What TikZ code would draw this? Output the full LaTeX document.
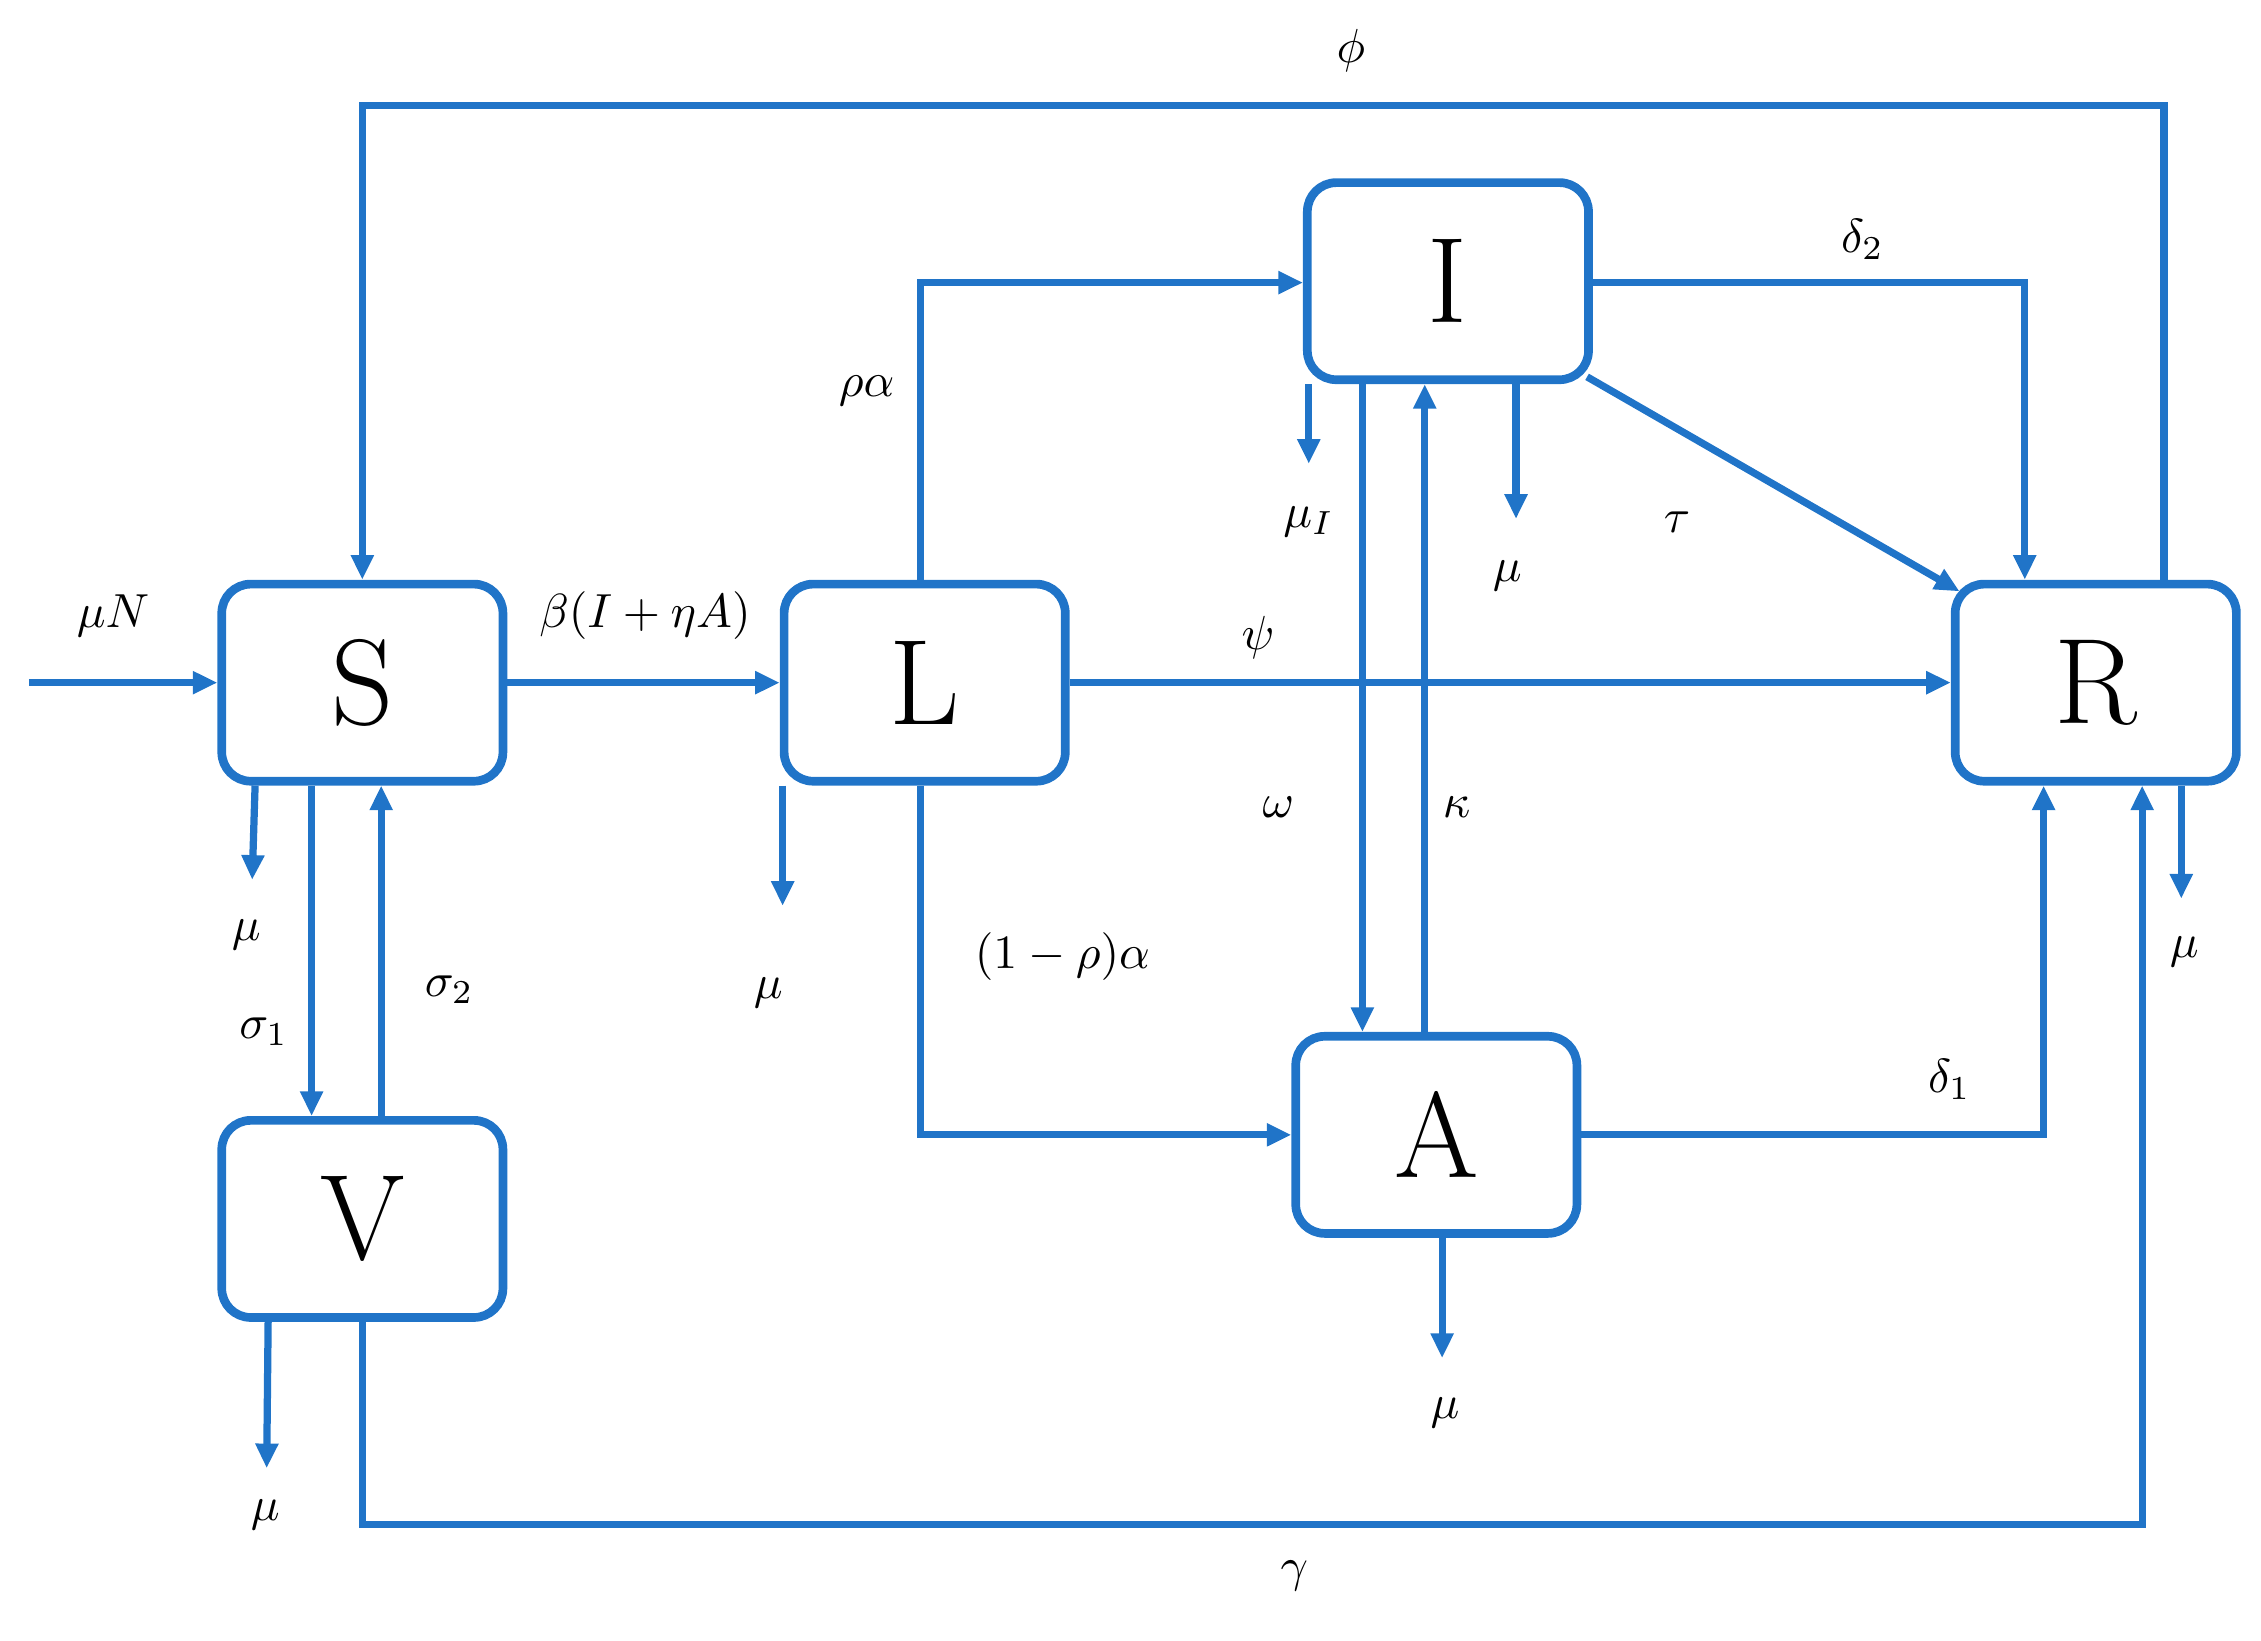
\documentclass[tikz,border=0pt]{standalone}
\usetikzlibrary{arrows.meta}
\definecolor{bl}{RGB}{32,116,200}
\begin{document}
\begin{tikzpicture}[x=1pt,y=-1pt,
 box/.style={draw=bl,line width=6pt,rounded corners=20pt,minimum width=194pt,minimum height=136pt,inner sep=0pt,font=\fontsize{84}{84}\selectfont},
 ar/.style={draw=bl,line width=5pt,-{Triangle[length=17pt,width=15pt]}},
 lb/.style={scale=3.3}]
\useasboundingbox (0,0) rectangle (1560,1132);
\node[box] (S) at (250,471) {S};
\node[box] (L) at (638,471) {L};
\node[box] (I) at (999,194) {I};
\node[box] (R) at (1446,471) {R};
\node[box] (A) at (991,783) {A};
\node[box] (V) at (250,841) {V};
\coordinate (in) at (20,471);
\coordinate (mS) at (174,607); \coordinate (mL) at (540,625);
\coordinate (mI1) at (903,320); \coordinate (mI2) at (1046,358);
\coordinate (mA) at (995,937); \coordinate (mR) at (1505,620);
\coordinate (mV) at (184,1013);
\draw[ar] (in) -- (S.west);
\draw[ar] (S.east) -- (L.west);
\draw[ar] (L.east) -- (R.west);
\draw[ar] (R.north -| 1493,0) -- (1493,73) -- (250,73) -- (S.north);
\draw[ar] (L.north -| 635,0) |- (I.west |- 0,195);
\draw[ar] (L.south -| 635,0) |- (A.west |- 0,783);
\draw[ar] (I.east |- 0,195) -| (R.north -| 1397,0);
\draw[ar] (1095,260) -- (1352,408);
\draw[ar] (I.south -| 903,0) -- (mI1);
\draw[ar] (I.south -| 1046,0) -- (mI2);
\draw[ar] (I.south -| 940,0) -- (A.north -| 940,0);
\draw[ar] (A.north -| 983,0) -- (I.south -| 983,0);
\draw[ar] (A.east |- 0,783) -| (R.south -| 1410,0);
\draw[ar] (A.south -| 995,0) -- (mA);
\draw[ar] (V.south) -- (250,1052) -- (1478,1052) -- (R.south -| 1478,0);
\draw[ar] (R.south -| 1505,0) -- (mR);
\draw[ar] (S.south -| 176,0) -- (mS);
\draw[ar] (S.south -| 215,0) -- (V.north -| 215,0);
\draw[ar] (V.north -| 263,0) -- (S.south -| 263,0);
\draw[ar] (L.south -| 540,0) -- (mL);
\draw[ar] (V.south -| 185,0) -- (mV);
\node[lb] at (78,425) {$\mu N$};
\node[lb] at (445,425) {$\beta(I+\eta A)$};
\node[lb] at (868,440) {$\psi$};
\node[lb] at (932,35) {$\phi$};
\node[lb] at (598,270) {$\rho\alpha$};
\node[lb] at (733,660) {$(1-\rho)\alpha$};
\node[lb] at (1285,165) {$\delta_2$};
\node[lb] at (1157,360) {$\tau$};
\node[lb] at (903,360) {$\mu_I$};
\node[lb] at (1040,397) {$\mu$};
\node[lb] at (882,557) {$\omega$};
\node[lb] at (1005,557) {$\kappa$};
\node[lb] at (1345,745) {$\delta_1$};
\node[lb] at (997,975) {$\mu$};
\node[lb] at (893,1087) {$\gamma$};
\node[lb] at (1507,657) {$\mu$};
\node[lb] at (170,645) {$\mu$};
\node[lb] at (182,712) {$\sigma_1$};
\node[lb] at (310,683) {$\sigma_2$};
\node[lb] at (530,685) {$\mu$};
\node[lb] at (183,1045) {$\mu$};
\end{tikzpicture}
\end{document}
